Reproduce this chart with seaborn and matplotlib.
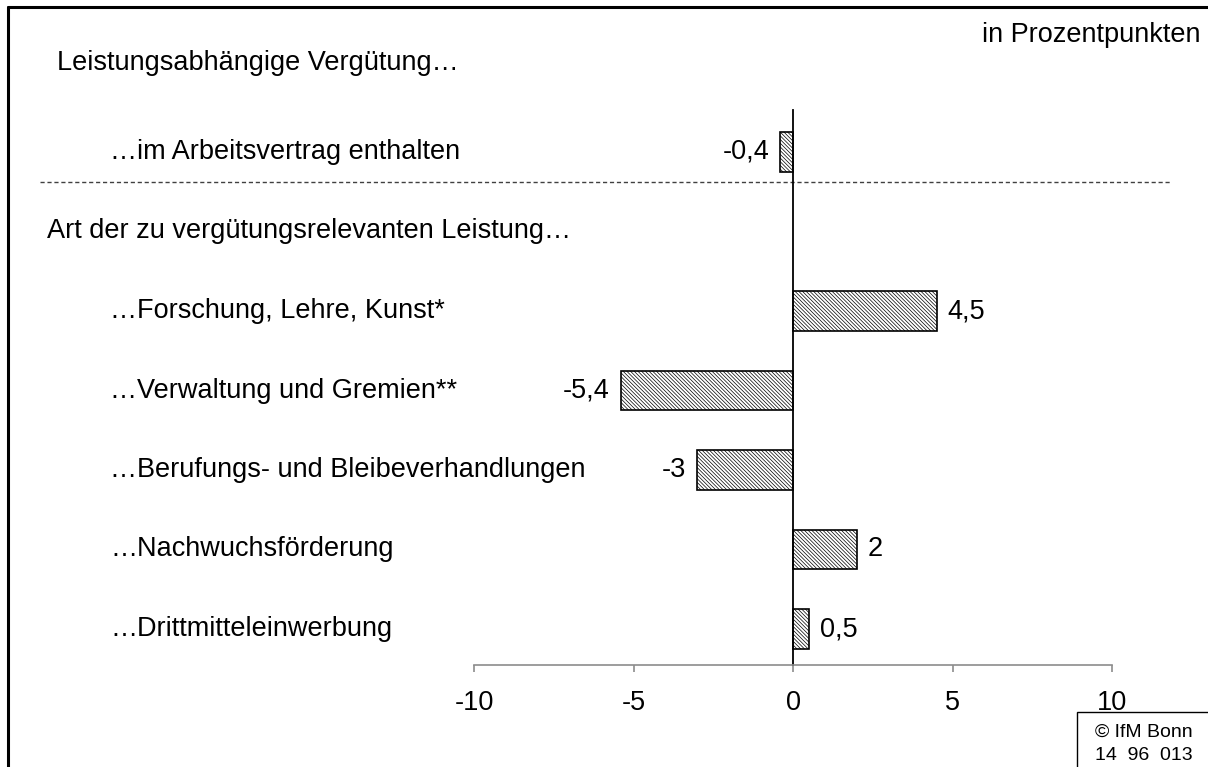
import numpy as np
import pandas as pd
import matplotlib
matplotlib.use("Agg")
import matplotlib.pyplot as plt
import seaborn as sns
from matplotlib.patches import Rectangle
from matplotlib.lines import Line2D

# --- DATEN ---
categories = [
    "…im Arbeitsvertrag enthalten",
    "…Forschung, Lehre, Kunst*",
    "…Verwaltung und Gremien**",
    "…Berufungs- und Bleibeverhandlungen",
    "…Nachwuchsförderung",
    "…Drittmitteleinwerbung",
]
values = [-0.4, 4.5, -5.4, -3.0, 2.0, 0.5]
header_top = "Leistungsabhängige Vergütung…"
header_mid = "Art der zu vergütungsrelevanten Leistung…"
unit_text = "in Prozentpunkten"
source_lines = ["© IfM Bonn", "14  96  013"]
x_ticks = [-10, -5, 0, 5, 10]

# --- LAYOUT (Pixel) ---
W, H = 1208, 767
ZERO_PX, UNIT_PX = 793, 31.9     # x=0 und Pixel pro Prozentpunkt
ROW0_PX, ROW_PX = 152, 79.5      # erste Zeile und Zeilenabstand
FS = 19.5

sns.set_theme(style="white")
plt.rcParams["font.family"] = ["Liberation Sans", "DejaVu Sans"]
plt.rcParams["text.color"] = "black"
plt.rcParams["hatch.linewidth"] = 0.5

df = pd.DataFrame({"Kategorie": categories, "Wert": values})
# Zwischenüberschrift bekommt einen leeren Platz in der Kategorienreihenfolge
order = [categories[0], header_mid] + categories[1:]

fig = plt.figure(figsize=(W / 100, H / 100), dpi=100)
ax = fig.add_axes([0, 0, 1, 1])
ax.patch.set_alpha(0)

sns.barplot(data=df, x="Wert", y="Kategorie", order=order, orient="h",
            width=0.5, color="white", saturation=1, edgecolor="black",
            linewidth=1.2, hatch="\\" * 9, ax=ax)

ax.set_xlim(-ZERO_PX / UNIT_PX, (W - ZERO_PX) / UNIT_PX)
ax.set_ylim((H - ROW0_PX) / ROW_PX, -ROW0_PX / ROW_PX)
axis_row = (665 - ROW0_PX) / ROW_PX

# Achsen
ax.spines[["top", "right"]].set_visible(False)
ax.spines["left"].set_position(("data", 0))
ax.spines["left"].set_bounds((110 - ROW0_PX) / ROW_PX, axis_row)
ax.spines["left"].set_color("black")
ax.spines["left"].set_linewidth(1.3)
ax.spines["bottom"].set_position(("data", axis_row))
ax.spines["bottom"].set_bounds(-10, 10)
ax.spines["bottom"].set_color("#8c8c8c")
ax.spines["bottom"].set_linewidth(1.2)
ax.set_xticks(x_ticks, labels=[f"{t}" for t in x_ticks])
ax.tick_params(axis="x", direction="out", length=5, width=1.2, color="#8c8c8c",
               labelsize=FS, pad=13, bottom=True, labelcolor="black")
ax.set_yticks([])
ax.set_xlabel("")
ax.set_ylabel("")

# Werte an den Balken
bars = ax.containers[0]
ax.bar_label(bars, labels=[f"{b.get_width():g}".replace(".", ",") for b in bars],
             padding=8, fontsize=FS, color="black")

# Beschriftungen links
for i, name in enumerate(order):
    xx = 47 / W if name == header_mid else 110 / W
    ax.text(xx, i, name, transform=ax.get_yaxis_transform(), ha="left",
            va="center", fontsize=FS)

fig.text(57 / W, 1 - 63 / H, header_top, ha="left", va="center", fontsize=FS)
fig.text(1200 / W, 1 - 35 / H, unit_text, ha="right", va="center", fontsize=FS)

# gestrichelte Trennlinie
ax.axhline((182 - ROW0_PX) / ROW_PX, xmin=40 / W, xmax=1170 / W,
           color="#404040", lw=1, ls=(0, (3, 2)))

# Rahmen oben und links
fig.add_artist(Line2D([8 / W, 8 / W], [0, 1 - 7 / H], transform=fig.transFigure,
                      color="black", lw=2.2))
fig.add_artist(Line2D([8 / W, 1], [1 - 7 / H, 1 - 7 / H], transform=fig.transFigure,
                      color="black", lw=2.2))

# Quellenkasten
fig.add_artist(Rectangle((1077 / W, -0.01), (W - 1077) / W + 0.02, (H - 712) / H + 0.01,
                         transform=fig.transFigure, fill=False, ec="black", lw=1))
fig.text(1095 / W, 1 - 732 / H, source_lines[0], ha="left", va="center", fontsize=14)
fig.text(1095 / W, 1 - 755 / H, source_lines[1], ha="left", va="center", fontsize=14)

fig.savefig("out.png", dpi=100)
